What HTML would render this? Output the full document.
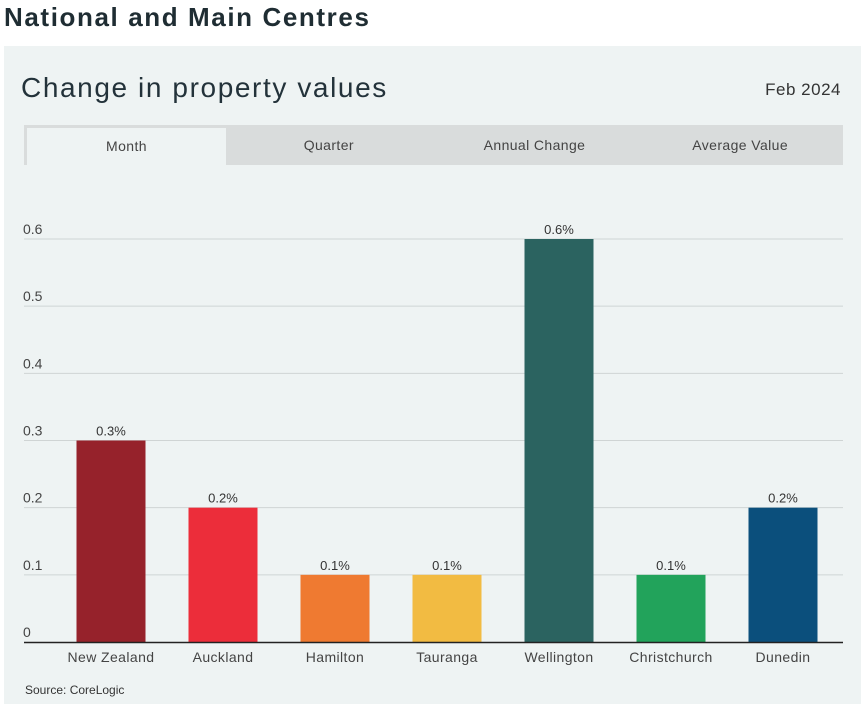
<!DOCTYPE html>
<html><head><meta charset="utf-8"><style>
body{margin:0;width:861px;height:704px;background:#fff;font-family:"Liberation Sans",sans-serif;overflow:hidden;position:relative}
.h1{position:absolute;left:4px;top:2px;font-size:26px;font-weight:bold;color:#1f2d33;letter-spacing:1.6px}
.panel{position:absolute;left:4px;top:46px;width:857px;height:658px;background:#eef3f3}
.t2{position:absolute;left:21px;top:72px;font-size:28px;color:#23323a;letter-spacing:1.6px}
.date{position:absolute;right:20px;top:80px;font-size:17px;color:#333;letter-spacing:0.5px}
.tabs{position:absolute;left:24px;top:125px;width:819px;height:40px;background:#d9dcdc;display:flex}
.tab{flex:1;text-align:center;line-height:40px;font-size:14px;color:#444;letter-spacing:0.4px}
.tab.on{flex:0 0 199px;background:#eef3f3;margin:3px 0 0 3px;line-height:37px}
.src{position:absolute;left:25px;top:683px;font-size:12px;color:#333}
</style></head><body>
<div class="h1">National and Main Centres</div>
<div class="panel"></div>
<div class="t2">Change in property values</div>
<div class="date">Feb 2024</div>
<div class="tabs">
<div class="tab on">Month</div>
<div class="tab">Quarter</div>
<div class="tab">Annual Change</div>
<div class="tab">Average Value</div>
</div>
<svg id="c" width="861" height="704" style="position:absolute;left:0;top:0"></svg>
<div class="src">Source: CoreLogic</div>
<script>
const categories=["New Zealand","Auckland","Hamilton","Tauranga","Wellington","Christchurch","Dunedin"];
const values=[0.3,0.2,0.1,0.1,0.6,0.1,0.2];
const labels=["0.3%","0.2%","0.1%","0.1%","0.6%","0.1%","0.2%"];
const colors=["#96222b","#ec2d3a","#ef7a31","#f2bb42","#2b6360","#22a35b","#0b4f7c"];
const ticks=[0,0.1,0.2,0.3,0.4,0.5,0.6];
const svg=document.getElementById('c');const NS="http://www.w3.org/2000/svg";
const y0=642,y1=239,x0=55,x1=839;
const y=v=>y0-(v/0.6)*(y0-y1);
const band=(x1-x0)/categories.length;
const x=i=>x0+band*i+band/2;
function mk(t,a){const e=document.createElementNS(NS,t);for(const k in a)e.setAttribute(k,a[k]);svg.appendChild(e);return e;}
ticks.forEach(t=>{
 if(t>0){const l=mk('line',{x1:24,x2:843,y1:y(t),y2:y(t),stroke:'#cfd4d4'});}
 const tx=mk('text',{x:23,y:y(t)-5,'font-size':14,fill:'#444','font-family':'Liberation Sans'});tx.textContent=t;
 
});
categories.forEach((c,i)=>{
 const r=mk('rect',{x:x(i)-34.5,y:y(values[i]),width:69,height:y0-y(values[i]),fill:colors[i]});
 
 
 const v=mk('text',{x:x(i),y:y(values[i])-5,'text-anchor':'middle','font-size':13,fill:'#333','font-family':'Liberation Sans'});v.textContent=labels[i];
 
 const t=mk('text',{x:x(i),y:662,'text-anchor':'middle','font-size':14,fill:'#444','font-family':'Liberation Sans','letter-spacing':0.4});t.textContent=c;
 
});
const ax=mk('line',{x1:24,x2:843,y1:y0+0.5,y2:y0+0.5,stroke:'#222','stroke-width':1.5});

</script>
</body></html>
